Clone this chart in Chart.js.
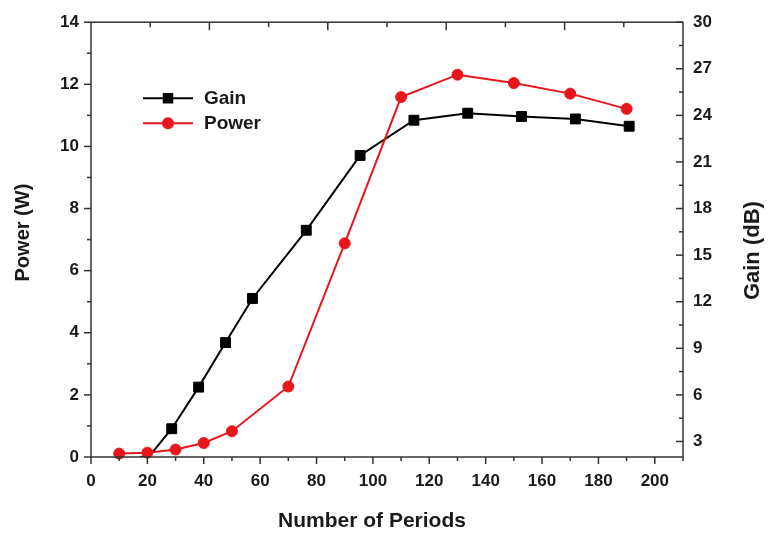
<!DOCTYPE html>
<html>
<head>
<meta charset="utf-8">
<script src="https://cdn.jsdelivr.net/npm/chart.js@4.4.1/dist/chart.umd.min.js"></script>
<style>
  html, body { margin: 0; padding: 0; background: #fff; }
  #wrap { width: 769px; height: 535px; }
</style>
</head>
<body>
<div id="wrap"><canvas id="myChart" width="769" height="535"></canvas></div>
<script>
// Power vs number of periods (bottom / left axes)
const periods = [10, 20, 30, 40, 50, 70, 90, 110, 130, 150, 170, 190];
const power = [0.11, 0.14, 0.24, 0.45, 0.83, 2.27, 6.88, 11.59, 12.31, 12.04, 11.70, 11.21];

// Gain layer has its own x axis on top (0-22) and the right axis in dB
const gainPos = [2, 3, 4, 5, 6, 8, 10, 12, 14, 16, 18, 20];
const gain = [1.7, 3.82, 6.50, 9.37, 12.21, 16.6, 21.42, 23.69, 24.14, 23.93, 23.77, 23.30];

// tick values
const xTicks = [0, 20, 40, 60, 80, 100, 120, 140, 160, 180, 200];
const xMinor = [10, 30, 50, 70, 90, 110, 130, 150, 170, 190, 210];
const powerTicks = [0, 2, 4, 6, 8, 10, 12, 14];
const powerMinor = [1, 3, 5, 7, 9, 11, 13];
const gainTicks = [3, 6, 9, 12, 15, 18, 21, 24, 27, 30];
const gainMinor = [4.5, 7.5, 10.5, 13.5, 16.5, 19.5, 22.5, 25.5, 28.5];
const topTicks = [4.4, 8.8, 13.2, 17.6];
const topMinor = [2.2, 6.6, 11, 15.4, 19.8];

const axisColor = '#333';
const textColor = '#1a1a1a';
const red = '#e8161c';
const FONT = '"Liberation Sans", Arial, sans-serif';

const tickFont = { family: FONT, size: 17, weight: 'bold' };

// frame plus Origin-style major/minor tick marks
const frameTicks = {
  id: 'frameTicks',
  afterDraw(chart) {
    const { ctx, chartArea: a, scales } = chart;
    ctx.save();
    ctx.strokeStyle = axisColor;
    ctx.lineWidth = 1.5;
    ctx.strokeRect(a.left, a.top, a.right - a.left, a.bottom - a.top);

    const mark = (vals, scale, side, len) => {
      vals.forEach(v => {
        const p = scale.getPixelForValue(v);
        ctx.beginPath();
        if (side === 'bottom') { ctx.moveTo(p, a.bottom); ctx.lineTo(p, a.bottom + len); }
        if (side === 'top') { ctx.moveTo(p, a.top); ctx.lineTo(p, a.top + len); }
        if (side === 'left') { ctx.moveTo(a.left, p); ctx.lineTo(a.left - len, p); }
        if (side === 'right') { ctx.moveTo(a.right, p); ctx.lineTo(a.right - len, p); }
        ctx.stroke();
      });
    };
    mark(xTicks, scales.x, 'bottom', 7);
    mark(xMinor, scales.x, 'bottom', 4);
    mark(powerTicks, scales.y, 'left', 7);
    mark(powerMinor, scales.y, 'left', 4);
    mark(topTicks, scales.xTop, 'top', 8);
    mark(topMinor, scales.xTop, 'top', 5);
    mark(gainTicks, scales.yGain, 'right', 7);
    mark(gainMinor, scales.yGain, 'right', 4);
    ctx.restore();
  }
};

// axis titles; both vertical ones read bottom to top
const axisTitles = {
  id: 'axisTitles',
  afterDraw(chart) {
    const { ctx, chartArea: a } = chart;
    const midX = (a.left + a.right) / 2;
    const midY = (a.top + a.bottom) / 2;
    ctx.save();
    ctx.fillStyle = textColor;
    ctx.textAlign = 'center';
    ctx.textBaseline = 'middle';

    ctx.font = 'bold 21px ' + FONT;
    ctx.fillText('Number of Periods', midX - 15, a.bottom + 64);

    ctx.font = 'bold 20px ' + FONT;
    ctx.save();
    ctx.translate(a.left - 68, midY - 7);
    ctx.rotate(-Math.PI / 2);
    ctx.fillText('Power (W)', 0, 0);
    ctx.restore();

    ctx.font = 'bold 22px ' + FONT;
    ctx.save();
    ctx.translate(a.right + 70, midY + 11);
    ctx.rotate(-Math.PI / 2);
    ctx.fillText('Gain (dB)', 0, 0);
    ctx.restore();
    ctx.restore();
  }
};

// legend drawn inside the plot, upper left
const inlineLegend = {
  id: 'inlineLegend',
  afterDraw(chart) {
    const { ctx, chartArea: a } = chart;
    ctx.save();
    chart.data.datasets.forEach((ds, i) => {
      const y = a.top + 76 + i * 25;
      const x0 = a.left + 52;
      ctx.strokeStyle = ds.borderColor;
      ctx.lineWidth = 2;
      ctx.beginPath();
      ctx.moveTo(x0, y);
      ctx.lineTo(x0 + 50, y);
      ctx.stroke();
      ctx.fillStyle = ds.backgroundColor;
      Chart.helpers.drawPoint(ctx, {
        pointStyle: ds.pointStyle,
        radius: ds.pointStyle === 'rect' ? 6 : 5,
        borderWidth: 1,
        rotation: 0
      }, x0 + 25, y);
      ctx.fillStyle = textColor;
      ctx.font = 'bold 19px ' + FONT;
      ctx.textBaseline = 'middle';
      ctx.fillText(ds.label, x0 + 61, y + 1);
    });
    ctx.restore();
  }
};

const fixedTicks = vals => scale => { scale.ticks = vals.map(v => ({ value: v })); };

const ctx = document.getElementById('myChart').getContext('2d');
new Chart(ctx, {
  type: 'line',
  data: {
    datasets: [
      {
        label: 'Gain',
        data: gainPos.map((x, i) => ({ x, y: gain[i] })),
        xAxisID: 'xTop',
        yAxisID: 'yGain',
        borderColor: '#000',
        backgroundColor: '#000',
        borderWidth: 2,
        pointStyle: 'rect',
        pointRadius: 7,
        pointBorderWidth: 1,
        tension: 0,
        clip: 0,
        order: 1
      },
      {
        label: 'Power',
        data: periods.map((x, i) => ({ x, y: power[i] })),
        xAxisID: 'x',
        yAxisID: 'y',
        borderColor: red,
        backgroundColor: red,
        borderWidth: 2,
        pointStyle: 'circle',
        pointRadius: 5.5,
        pointBorderWidth: 1,
        tension: 0,
        clip: false,
        order: 0
      }
    ]
  },
  options: {
    responsive: false,
    animation: false,
    devicePixelRatio: 1,
    layout: { padding: { top: 21, left: 0, right: 0, bottom: 0 } },
    plugins: {
      legend: { display: false },
      tooltip: { enabled: false }
    },
    scales: {
      x: {
        type: 'linear',
        position: 'bottom',
        min: 0,
        max: 210,
        afterBuildTicks: fixedTicks(xTicks),
        afterFit: s => { s.height = 78; },
        grid: { display: false, drawTicks: false },
        border: { display: false },
        ticks: { font: tickFont, color: textColor, padding: 14, maxRotation: 0, autoSkip: false }
      },
      xTop: {
        type: 'linear',
        position: 'top',
        min: 0,
        max: 22,
        display: false
      },
      y: {
        type: 'linear',
        position: 'left',
        min: 0,
        max: 14,
        afterBuildTicks: fixedTicks(powerTicks),
        afterFit: s => { s.width = 91; },
        grid: { display: false, drawTicks: false },
        border: { display: false },
        ticks: { font: tickFont, color: textColor, padding: 12 }
      },
      yGain: {
        type: 'linear',
        position: 'right',
        min: 2,
        max: 30,
        afterBuildTicks: fixedTicks(gainTicks),
        afterFit: s => { s.width = 86; },
        grid: { display: false, drawTicks: false },
        border: { display: false },
        ticks: { font: tickFont, color: textColor, padding: 10 }
      }
    }
  },
  plugins: [frameTicks, axisTitles, inlineLegend]
});
</script>
</body>
</html>
